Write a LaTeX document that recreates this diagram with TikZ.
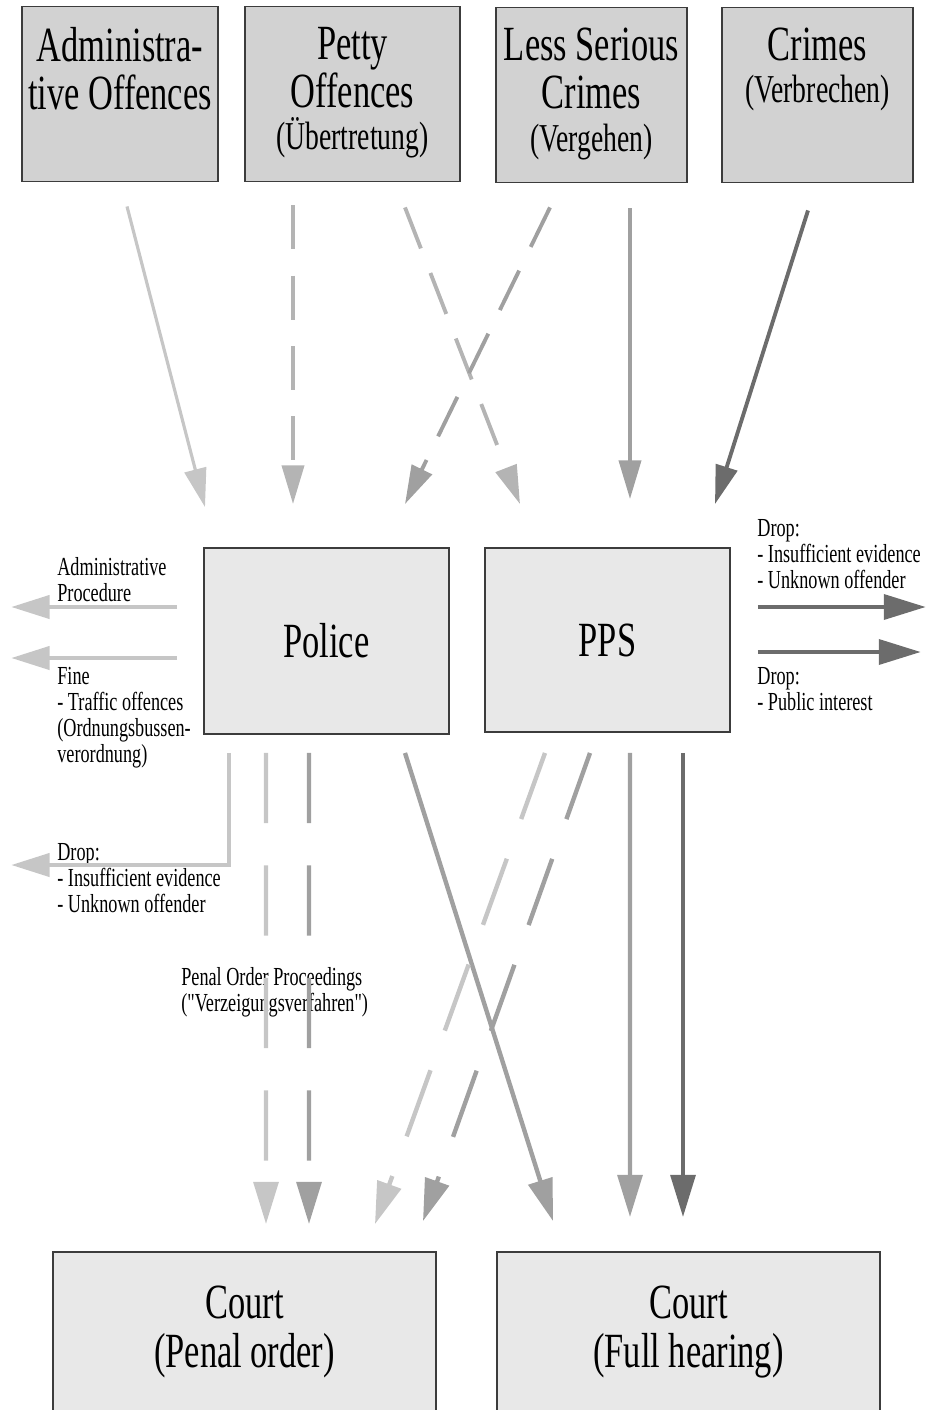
\documentclass[tikz,border=0pt]{standalone}
\usepackage{fontspec}
\setmainfont{Liberation Serif}[FakeStretch=0.7,Ligatures=TeXOff]
\usepackage{xcolor}
\usepackage{tikz}
\usetikzlibrary{arrows.meta,calc}

\definecolor{boxdark}{HTML}{D2D2D2}
\definecolor{boxlight}{HTML}{E8E8E8}
\definecolor{edge}{HTML}{3C3C3C}
\definecolor{arrlight}{HTML}{C6C6C6}
\definecolor{arrpale}{HTML}{B4B4B4}
\definecolor{arrmid}{HTML}{A0A0A0}
\definecolor{arrdark}{HTML}{6C6C6C}
\newcommand\bigfnt{\fontsize{28pt}{27.5pt}\selectfont}
\newcommand\medfnt{\fontsize{22.5pt}{24pt}\selectfont}
\newcommand\smallfnt{\fontsize{14.8pt}{14.7pt}\selectfont}

\begin{document}
\begin{tikzpicture}[
  x=0.02cm, y=-0.02cm,
  every node/.style={align=center,inner sep=0pt},
  crime/.style={rectangle,draw=edge,line width=1.1pt,fill=boxdark,minimum height=3.5cm},
  office/.style={rectangle,draw=edge,line width=1.1pt,fill=boxlight,minimum width=4.9cm,font=\bigfnt},
  court/.style={office,minimum width=7.66cm,minimum height=3.2cm},
  crimetxt/.style={anchor=north,yshift=-0.42cm,font=\bigfnt},
  note/.style={anchor=north west,align=left,font=\smallfnt},
  arr/.style={-{Triangle[length=22pt,width=12.5pt]},line width=2.2pt},
  arrlow/.style={-{Triangle[length=24pt,width=14pt]},line width=2.5pt},
  side/.style={-{Triangle[length=22pt,width=13pt]},line width=2.8pt},
  sideright/.style={side,-{Triangle[length=24pt,width=14pt]}},
  dashtop/.style={dash pattern=on 25pt off 15pt},
  dashlow/.style={dash pattern=on 40pt off 24pt},
]
\useasboundingbox (0,0) rectangle (935,1410);

% offence categories
\node[crime,minimum width=3.92cm,label={[crimetxt]north:{Administra-\\tive Offences}}] (adm) at (120,94) {};
\node[crime,minimum width=4.3cm,label={[crimetxt]north:{Petty\\Offences\\[-3.4pt]{\medfnt(Übertretung)}}}] (petty) at (352.5,94) {};
\node[crime,minimum width=3.82cm,label={[crimetxt]north:{Less Serious\\Crimes\\[-3.4pt]{\medfnt(Vergehen)}}}] (less) at (591.5,95) {};
\node[crime,minimum width=3.82cm,label={[crimetxt]north:{Crimes\\[-3.4pt]{\medfnt(Verbrechen)}}}] (crimes) at (817.5,95) {};

% authorities
\node[office,minimum height=3.72cm] (police) at (326.5,641) {Police};
\node[office,minimum height=3.68cm] (pps) at (607.5,640) {PPS};

% courts
\node[court] (penal) at (244.5,1332) {Court\\(Penal order)};
\node[court] (full) at (688.5,1332) {Court\\(Full hearing)};

% side notes
\node[note] (admproc) at (57,557) {Administrative\\Procedure};
\node[note] (fine) at (57,667) {Fine\\- Traffic offences\\(Ordnungsbussen-\\verordnung)};
\node[note] (poldrop) at (57,843) {Drop:\\- Insufficient evidence\\- Unknown offender};
\node[note] (ppsdrop) at (757,519) {Drop:\\- Insufficient evidence\\- Unknown offender};
\node[note] (pubint) at (757,667) {Drop:\\- Public interest};
\node[note] (penproc) at (181,967) {Penal Order Proceedings\\("Verzeigungsverfahren")};

% into police / pps
\draw[arr,arrlight,line width=1.8pt] ($(adm.south)+(7,24)$) -- ($(police.north)+(-121.5,-40)$);
\draw[arr,arrpale,dashtop] ($(petty.south)+(-59.5,23)$) -- ($(police.north)+(-33.5,-43)$);
\draw[arr,arrpale,dashtop] ($(petty.south)+(52.5,25)$) -- ($(pps.north)+(-87.5,-43)$);
\draw[arr,arrmid,dashtop] ($(less.south)+(-41.5,24)$) -- ($(police.north)+(78.5,-43)$);
\draw[arr,arrmid] ($(less.south)+(38.5,25)$) -- ($(pps.north)+(22.5,-48)$);
\draw[arr,arrdark] ($(crimes.south)+(-9.5,27)$) -- ($(pps.north)+(107.5,-43)$);

% leaving sideways
\draw[side,arrlight] ($(police.west)+(-26,-34)$) -- ($(police.west)+(-192,-34)$);
\draw[side,arrlight] ($(police.west)+(-26,17)$) -- ($(police.west)+(-192,17)$);
\draw[side,arrlight] ($(police.south)+(-97.5,18)$) |- ($(police.west)+(-192,224)$);
\draw[sideright,arrdark] ($(pps.east)+(27,-33)$) -- ($(pps.east)+(195,-33)$);
\draw[sideright,arrdark] ($(pps.east)+(27,12)$) -- ($(pps.east)+(190,12)$);

% to the courts
\draw[arrlow,arrlight,dashlow] ($(police.south)+(-60.5,18)$) -- ($(penal.north)+(21.5,-27)$);
\draw[arrlow,arrmid,dashlow] ($(police.south)+(-17.5,18)$) -- ($(penal.north)+(64.5,-27)$);
\draw[arrlow,arrmid] ($(police.south)+(78.5,18)$) -- ($(full.north)+(-135.5,-30)$);
\draw[arrlow,arrlight,dashlow] ($(pps.south)+(-62.5,20)$) -- ($(penal.north)+(130.5,-27)$);
\draw[arrlow,arrmid,dashlow] ($(pps.south)+(-17.5,20)$) -- ($(penal.north)+(178.5,-30)$);
\draw[arrlow,arrmid] ($(pps.south)+(22.5,20)$) -- ($(full.north)+(-58.5,-34)$);
\draw[arrlow,arrdark] ($(pps.south)+(75.5,20)$) -- ($(full.north)+(-5.5,-34)$);
\end{tikzpicture}
\end{document}
